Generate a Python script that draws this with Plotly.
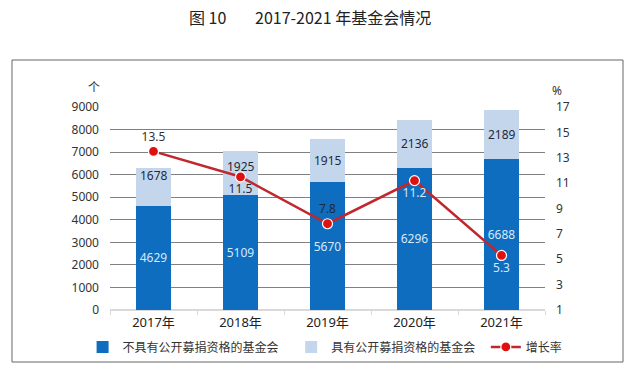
import plotly.graph_objects as go

years = ["2017年", "2018年", "2019年", "2020年", "2021年"]
no_public = [4629, 5109, 5670, 6296, 6688]
with_public = [1678, 1925, 1915, 2136, 2189]
growth = [13.5, 11.5, 7.8, 11.2, 5.3]
growth_pos = ["top center", "bottom center", "top center", "bottom center", "bottom center"]
growth_color = ["#333333", "#1f2a3a", "#1f2a3a", "#d6e8fa", "#d6e8fa"]
light_label_shift = [11, 7, 0, 0, 0]

FONT = "Noto Sans, Noto Sans CJK SC, sans-serif"

fig = go.Figure()
fig.add_trace(go.Bar(
    x=years, y=no_public, name="不具有公开募捐资格的基金会",
    marker=dict(color="#0E6DBE", line=dict(width=0)),
    text=[str(v) for v in no_public], textposition="inside", insidetextanchor="middle",
    textfont=dict(color="#d6e8fa", size=12, family=FONT), constraintext="none",
    yaxis="y", legend="legend",
))
fig.add_trace(go.Bar(
    x=years, y=with_public, name="具有公开募捐资格的基金会",
    marker=dict(color="#C4D6EC", line=dict(width=0)),
    textposition="none",
    yaxis="y", legend="legend2",
))
fig.add_trace(go.Scatter(
    x=years, y=growth, name="增长率", yaxis="y2", mode="lines+markers+text",
    line=dict(color="#C0282E", width=2.5),
    marker=dict(color="#E01010", size=10, line=dict(color="white", width=1.2)),
    text=[str(v) for v in growth], textposition=growth_pos,
    textfont=dict(color=growth_color, size=12, family=FONT),
    legend="legend3",
))

annotations = [
    dict(text="个", xref="paper", yref="paper", x=-0.0552, y=1.095, yanchor="middle", showarrow=False,
         font=dict(size=12, color="#333333")),
    dict(text="%", xref="paper", yref="paper", x=1.044, y=1.082, yanchor="middle", showarrow=False,
         font=dict(size=12, color="#333333")),
]
for yr, a, b, s in zip(years, no_public, with_public, light_label_shift):
    annotations.append(dict(text=str(b), x=yr, y=a + b / 2, xref="x", yref="y", yshift=s,
                            showarrow=False, font=dict(size=12, color="#1f2a3a", family=FONT)))

leg_common = dict(orientation="h", yanchor="middle", y=-0.182, xanchor="left",
                  font=dict(size=12, color="#333333"), bgcolor="rgba(0,0,0,0)", itemwidth=30)

fig.update_layout(
    width=642, height=371,
    margin=dict(l=110, r=97, t=107, b=61, autoexpand=False),
    paper_bgcolor="white", plot_bgcolor="white",
    barmode="stack", bargap=0.6,
    font=dict(family=FONT, size=11, color="#333333"),
    showlegend=True,
    legend=dict(x=-0.063, **leg_common),
    legend2=dict(x=0.4165, **leg_common),
    legend3=dict(x=0.864, **leg_common),
    xaxis=dict(type="category", showgrid=False, showline=True, linecolor="#d9d9d9",
               ticks="outside", tickson="boundaries", ticklen=4, tickcolor="#d9d9d9",
               tickfont=dict(size=13, color="#222222")),
    yaxis=dict(range=[0, 9000], dtick=1000, showgrid=True, gridcolor="#808080", gridwidth=1,
               zeroline=True, zerolinecolor="#d9d9d9", tickfont=dict(size=12, color="#333333"),
               ticklabelstandoff=10),
    yaxis2=dict(range=[1, 17], tick0=1, dtick=2, overlaying="y", side="right", showgrid=False,
                zeroline=False, tickfont=dict(size=12, color="#333333"), ticklabelstandoff=10),
    title=dict(text="图 10        2017-2021 年基金会情况", x=0.483, xanchor="center", xref="container",
               y=0.951, yanchor="middle",
               font=dict(size=16, color="#222222", family="Noto Sans CJK SC, serif")),
    shapes=[dict(type="rect", xref="paper", yref="paper", x0=-0.2253, x1=1.1793, y0=-0.2562, y1=1.2315,
                 line=dict(color="#666666", width=1), fillcolor="rgba(0,0,0,0)", layer="below")],
    annotations=annotations,
)

fig.write_html("out.html", config={"displayModeBar": False},
               post_script="document.body.style.margin='0';")
